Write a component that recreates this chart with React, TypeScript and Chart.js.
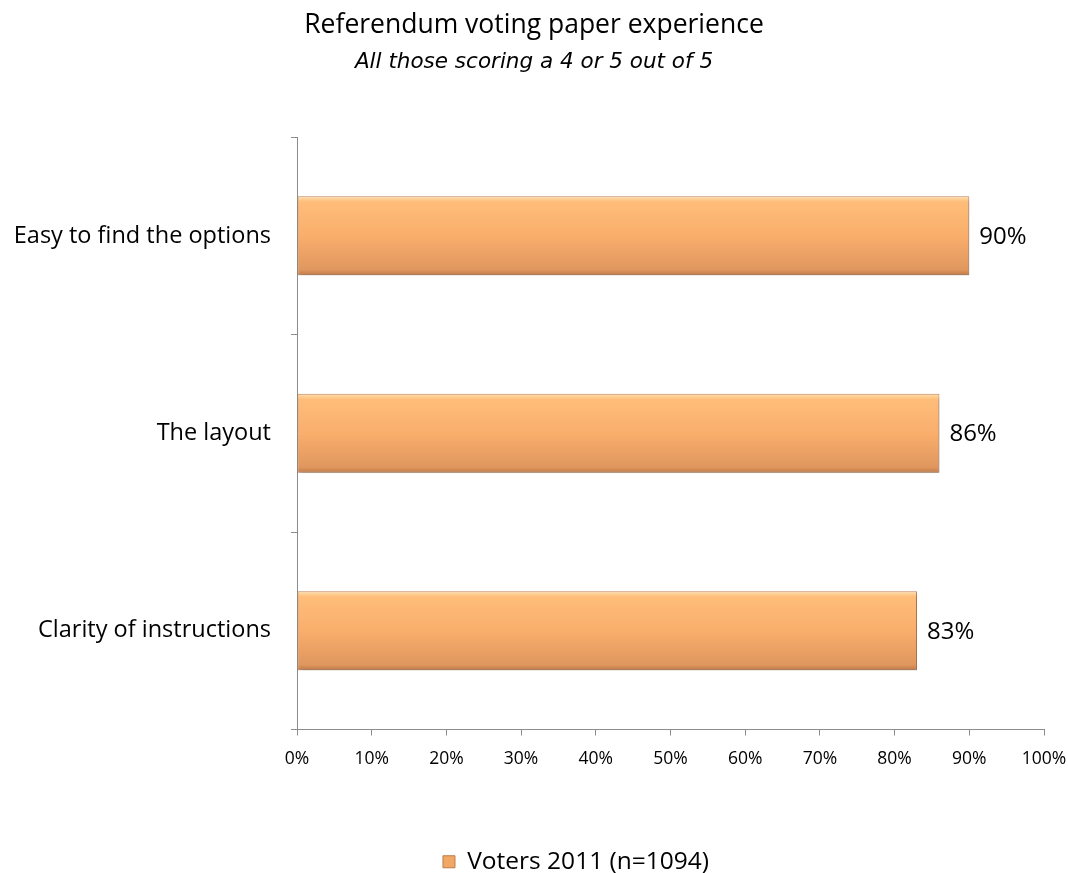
import React, { useEffect, useRef } from "react";
import { Chart, registerables } from "chart.js";

Chart.register(...registerables);

const categories = ["Easy to find the options", "The layout", "Clarity of instructions"];
const values = [90, 86, 83];
const seriesLabel = "Voters 2011 (n=1094)";
const titleText = "Referendum voting paper experience";
const subtitleText = "All those scoring a 4 or 5 out of 5";

const FONT = "'Open Sans', 'Noto Sans', sans-serif";

export default function App() {
  const ref = useRef<HTMLCanvasElement | null>(null);

  useEffect(() => {
    document.body.style.margin = "0";
    const canvas = ref.current;
    if (!canvas) return;

    const barGradient = (context: any) => {
      const chart = context.chart;
      const yScale = chart.scales?.y;
      if (!yScale || context.dataIndex === undefined || !isFinite(yScale.height)) return "#F5AA6C";
      const y = yScale.getPixelForValue(context.dataIndex);
      const half = ((yScale.height / categories.length) * 0.4) / 2;
      if (!isFinite(y) || !isFinite(half) || half <= 0) return "#F5AA6C";
      const g = chart.ctx.createLinearGradient(0, y - half, 0, y + half);
      g.addColorStop(0, "#FFE0AE");
      g.addColorStop(0.07, "#FFBD7A");
      g.addColorStop(0.5, "#F9AE6C");
      g.addColorStop(0.93, "#E0975E");
      g.addColorStop(1, "#C07A48");
      return g;
    };

    const shadowPlugin = {
      id: "barShadow",
      beforeDatasetsDraw(chart: any) {
        const c = chart.ctx;
        c.save();
        c.shadowColor = "rgba(0,0,0,0.28)";
        c.shadowBlur = 4;
        c.shadowOffsetX = 1;
        c.shadowOffsetY = 3;
      },
      afterDatasetsDraw(chart: any) {
        chart.ctx.restore();
      },
    };

    const labelPlugin = {
      id: "valueLabels",
      afterDatasetsDraw(chart: any) {
        const c = chart.ctx;
        const meta = chart.getDatasetMeta(0);
        c.save();
        c.font = `24px ${FONT}`;
        c.fillStyle = "#000";
        c.textAlign = "left";
        c.textBaseline = "middle";
        meta.data.forEach((bar: any, i: number) => {
          c.fillText(values[i] + "%", bar.x + 10, bar.y + 1);
        });
        c.restore();
      },
    };

    const legendShift = {
      id: "legendShift",
      afterLayout(chart: any) {
        const lg = chart.legend;
        if (lg) {
          lg.left += 42;
          lg.right += 42;
        }
      },
    };

    const chart = new Chart(canvas, {
      type: "bar",
      data: {
        labels: categories,
        datasets: [
          {
            label: seriesLabel,
            data: values,
            backgroundColor: barGradient,
            borderColor: "#C8875A",
            borderWidth: 1,
            borderSkipped: false,
            barPercentage: 0.5,
            categoryPercentage: 0.8,
          },
        ],
      },
      options: {
        indexAxis: "y",
        responsive: false,
        animation: false,
        layout: { padding: { left: 0, right: 0, top: 0, bottom: -11 } },
        scales: {
          x: {
            min: 0,
            max: 100,
            ticks: {
              stepSize: 10,
              callback: (v: any) => v + "%",
              font: { family: FONT, size: 17.5 },
              color: "#000",
              padding: 13,
              maxRotation: 0,
            },
            grid: { drawOnChartArea: false, tickLength: 6, color: "#8c8c8c" },
            border: { color: "#8c8c8c" },
            afterFit: (s: any) => {
              s.height = 120;
              s.paddingRight = 24;
            },
          },
          y: {
            ticks: {
              font: { family: FONT, size: 23.5 },
              color: "#000",
              padding: 20,
            },
            grid: { drawOnChartArea: false, tickLength: 6, color: "#8c8c8c", offset: true },
            border: { color: "#8c8c8c" },
            afterFit: (s: any) => {
              s.width = 297;
            },
          },
        },
        plugins: {
          title: {
            display: true,
            text: titleText,
            font: { family: FONT, size: 26.5, weight: "normal" },
            color: "#000",
            padding: { top: 9.5, bottom: 4 },
          },
          subtitle: {
            display: true,
            text: subtitleText,
            font: { family: "'DejaVu Sans', sans-serif", size: 21.5, style: "italic" },
            color: "#000",
            padding: { top: 4.5, bottom: 61.5 },
          },
          legend: {
            display: true,
            position: "bottom",
            labels: {
              font: { family: FONT, size: 24.5 },
              color: "#000",
              boxWidth: 12,
              boxHeight: 12,
              padding: 0,
              generateLabels: () => [
                {
                  text: seriesLabel,
                  fillStyle: "#F2A865",
                  strokeStyle: "#C07A48",
                  lineWidth: 1,
                  datasetIndex: 0,
                  hidden: false,
                },
              ],
            },
          },
          tooltip: { enabled: false },
        },
      },
      plugins: [shadowPlugin, labelPlugin, legendShift],
    } as any);

    return () => chart.destroy();
  }, []);

  return (
    <div style={{ width: 1068, height: 873 }}>
      <canvas ref={ref} width={1068} height={873} />
    </div>
  );
}
